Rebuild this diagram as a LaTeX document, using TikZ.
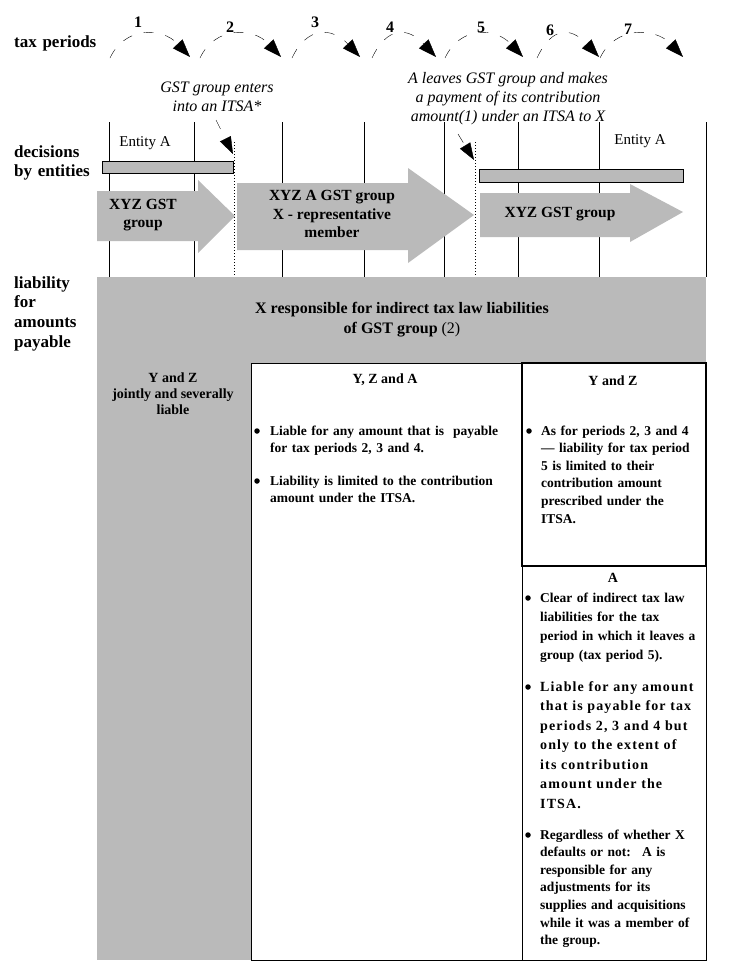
\documentclass[tikz,border=0pt]{standalone}
\usepackage{fontspec}
\setmainfont{Liberation Serif}
\usetikzlibrary{arrows.meta, positioning}
\definecolor{halftone}{RGB}{186,186,186}
\tikzstyle{rowlabel} = [font=\fontsize{17}{19.7}\selectfont\bfseries, text width=100pt, align=left, anchor=base west, inner sep=0pt]
\tikzstyle{num} = [font=\fontsize{16}{19}\selectfont\bfseries, inner sep=0pt]
\tikzstyle{period} = [draw, dash pattern=on 10pt off 12pt, -{Triangle[length=18pt, width=13pt]}]
\tikzstyle{pointer} = [draw, dash pattern=on 10pt off 12pt, -{Triangle[length=17pt, width=12pt]}]
\tikzstyle{tick} = [draw, line width=0.9pt]
\tikzstyle{event} = [draw, dotted, line width=1pt]
\tikzstyle{note} = [font=\fontsize{16}{19}\selectfont\itshape, align=center, inner sep=0pt]
\tikzstyle{entity} = [font=\fontsize{15}{18}\selectfont, inner sep=0pt]
\tikzstyle{bar} = [draw, line width=0.9pt, fill=halftone]
\tikzstyle{blockarrow} = [fill=halftone]
\tikzstyle{arrowtext} = [font=\fontsize{15.5}{18.5}\selectfont\bfseries, align=center, inner sep=0pt]
\tikzstyle{bigtext} = [font=\fontsize{16}{20}\selectfont\bfseries, align=center, inner sep=0pt]
\tikzstyle{box} = [draw, line width=0.9pt, fill=white]
\tikzstyle{title} = [font=\fontsize{14}{16}\selectfont\bfseries, inner sep=0pt]
\tikzstyle{itemtext} = [font=\fontsize{13.5}{17.6}\selectfont\bfseries, text width=240pt, align=left, anchor=base west, inner sep=0pt]
\tikzstyle{widetext} = [font=\fontsize{14}{19.5}\selectfont\bfseries\addfontfeatures{LetterSpace=8}, text width=240pt, align=left, anchor=base west, inner sep=0pt]
\tikzstyle{dot} = [circle, fill, inner sep=0pt, minimum size=5.5pt]

\begin{document}
\begin{tikzpicture}[x=1pt, y=-1pt]
  \useasboundingbox (0,0) rectangle (732,980);

  % Row labels
  \node [rowlabel] (lperiods) at (14,47) {tax periods};
  \node [rowlabel] (ldecisions) at (14,157) {decisions\\by entities};
  \node [rowlabel] (lliability) at (14,288) {liability\\for\\amounts\\payable};

  % Period ticks
  \foreach \x in {109,194,282,364,444,518,599,706}
    \draw [tick] (\x,122) -- (\x,277);

  % Period arcs
  \foreach \s/\e/\n/\m/\h [count=\i] in {110/190/1/138/22, 200/281/2/230/27,
      292/360/3/315/22, 372/436/4/390/27, 445/523/5/481/27,
      537/599/6/550/30, 600/683/7/628/29} {
    \coordinate (ps\i) at (\s,58);
    \coordinate (pe\i) at (\e,57);
    \node [num] (pn\i) at (\m,\h) {\n};
    \path [period] (ps\i) .. controls +(15,-32) and +(-28,-30) .. (pe\i);
  }

  % Block arrows
  \fill [blockarrow] (97,191) -- (198,191) -- (198,180) -- (235,216)
    -- (198,253) -- (198,241) -- (97,241) -- cycle;
  \fill [blockarrow] (237,183) -- (408,183) -- (408,168) -- (474,215)
    -- (408,263) -- (408,250) -- (237,250) -- cycle;
  \fill [blockarrow] (480,193) -- (630,193) -- (630,184) -- (683,212)
    -- (630,242) -- (630,237) -- (480,237) -- cycle;
  \node [arrowtext] (grp1) at (143,215) {XYZ GST\\group};
  \node [arrowtext] (grp2) at (332,214) {XYZ A GST group\\X - representative\\member};
  \node [arrowtext] (grp3) at (560,214) {XYZ GST group};

  % Entity A bars
  \node [entity] (enta1) at (145,143) {Entity A};
  \node [entity] (enta2) at (640,141) {Entity A};
  \draw [bar] (102,161) rectangle (233,173);
  \draw [bar] (479,169) rectangle (683,182);

  % Events
  \node [note] (enters) at (217,97) {GST group enters\\into an ITSA*};
  \node [note] (leaves) at (508,99) {A leaves GST group and makes\\a payment of its contribution\\amount(1) under an ITSA to X};
  \coordinate (ev1) at (234,142);
  \coordinate (ev1b) at (234,277);
  \coordinate (ev2) at (475,142);
  \coordinate (ev2b) at (475,277);
  \coordinate (ev1tip) at (233,154);
  \coordinate (ev2tip) at (474,160);
  \path [event] (ev1) -- (ev1b);
  \path [event] (ev2) -- (ev2b);
  \path [pointer] (216,120) -- (ev1tip);
  \path [pointer] (458,134) -- (ev2tip);

  % Liability
  \fill [halftone] (97,277) rectangle (706,363);
  \node [bigtext] (xresp) at (402,320) {X responsible for indirect tax law liabilities\\of GST group {\mdseries(2)}};

  \fill [halftone] (97,363) rectangle (251,960);
  \draw [box] (251,363) rectangle (522,960);
  \draw [box, line width=1.4pt] (522,363) rectangle (706,566);
  \draw [box] (522,566) rectangle (706,960);

  \node [title, align=center] (yzj) at (173,394) {Y and Z\\jointly and severally\\liable};

  \node [title] (yza) at (385,380) {Y, Z and A};
  \node [dot] (yzab1) at (257,431) {};
  \node [itemtext] (yzat1) at (270,435) {Liable for any amount that is~ payable\\for tax periods 2, 3 and 4.};
  \node [dot] (yzab2) at (257,481) {};
  \node [itemtext] (yzat2) at (270,485) {Liability is limited to the contribution\\amount under the ITSA.};

  \node [title] (yz) at (613,381) {Y and Z};
  \node [dot] (yzb1) at (529,431) {};
  \node [itemtext] (yzt1) at (541,435) {As for periods 2, 3 and 4\\--- liability for tax period\\5 is limited to their\\contribution amount\\prescribed under the\\ITSA.};

  \node [title] (a) at (613,578) {A};
  \node [dot] (ab1) at (528,598) {};
  \node [itemtext, font=\fontsize{13.5}{19.3}\selectfont\bfseries] (at1) at (540,602) {Clear of indirect tax law\\liabilities for the tax\\period in which it leaves a\\group (tax period 5).};
  \node [dot] (ab2) at (528,687) {};
  \node [widetext] (at2) at (540,691) {Liable for any amount\\that is payable for tax\\periods 2, 3 and 4 but\\only to the extent of\\its contribution\\amount under the\\ITSA.};
  \node [dot] (ab3) at (528,835) {};
  \node [itemtext] (at3) at (540,839) {Regardless of whether X\\defaults or not:~ A is\\responsible for any\\adjustments for its\\supplies and acquisitions\\while it was a member of\\the group.};
\end{tikzpicture}
\end{document}
